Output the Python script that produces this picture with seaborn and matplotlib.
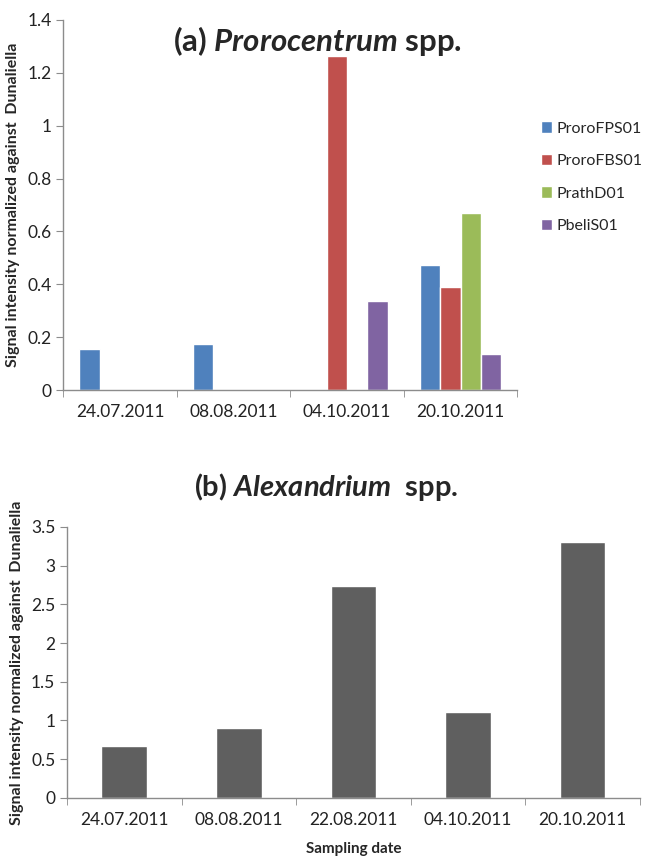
import numpy as np
import pandas as pd
import matplotlib
matplotlib.use("Agg")
import matplotlib.pyplot as plt
import seaborn as sns

# data for panel (a)
dates_a = ["24.07.2011", "08.08.2011", "04.10.2011", "20.10.2011"]
probes = ["ProroFPS01", "ProroFBS01", "PrathD01", "PbeliS01"]
proro_fps = [0.157, 0.173, 0.0, 0.475]
proro_fbs = [0.0, 0.0, 1.265, 0.390]
prath_d = [0.0, 0.0, 0.0, 0.668]
pbeli_s = [0.0, 0.0, 0.337, 0.135]

# data for panel (b)
dates_b = ["24.07.2011", "08.08.2011", "22.08.2011", "04.10.2011", "20.10.2011"]
alex_vals = [0.67, 0.90, 2.73, 1.11, 3.30]

probe_colors = ["#4F81BD", "#C0504D", "#9BBB59", "#8064A2"]
ylab = "Signal intensity normalized against  Dunaliella"

sns.set_style("white")
plt.rcParams['font.family'] = ['Lato', 'DejaVu Sans']
plt.rcParams['mathtext.fontset'] = 'custom'
plt.rcParams['mathtext.it'] = 'Lato:italic:bold'
plt.rcParams['mathtext.rm'] = 'Lato:bold'

df_a = pd.DataFrame({
    "date": np.repeat(dates_a, len(probes)),
    "probe": probes * len(dates_a),
    "value": np.array([proro_fps, proro_fbs, prath_d, pbeli_s]).T.ravel(),
})
df_b = pd.DataFrame({"date": dates_b, "value": alex_vals})

fig = plt.figure(figsize=(6.45, 8.65), dpi=100)
ax1 = fig.add_axes([0.098, 0.549, 0.704, 0.428])
ax2 = fig.add_axes([0.104, 0.0775, 0.888, 0.3135])

sns.barplot(data=df_a, x="date", y="value", hue="probe", hue_order=probes,
            palette=probe_colors, width=0.72, saturation=1, ax=ax1)
sns.barplot(data=df_b, x="date", y="value", color="#5F5F5F", width=0.4,
            saturation=1, ax=ax2)


def style_axis(ax, n, ymax, step):
    ax.set_xlim(-0.5, n - 0.5)
    ax.set_ylim(0, ymax)
    ax.set_yticks(np.arange(0, ymax + 1e-9, step))
    ax.set_yticklabels([f"{v:g}" for v in np.arange(0, ymax + 1e-9, step)])
    for s in ["top", "right"]:
        ax.spines[s].set_visible(False)
    for s in ["left", "bottom"]:
        ax.spines[s].set_color("#8C8C8C")
        ax.spines[s].set_linewidth(1)
    ax.set_xticks(np.arange(-0.5, n, 1), minor=True)
    ax.tick_params(axis="x", which="major", length=0, labelsize=12.5, pad=10,
                   colors="#222222")
    ax.tick_params(axis="x", which="minor", length=5, color="#8C8C8C",
                   direction="out", bottom=True)
    ax.tick_params(axis="y", length=5, color="#8C8C8C", direction="out",
                   left=True, labelsize=12.5, colors="#222222")
    ax.set_ylabel(ylab, fontsize=11.5, fontweight="bold", labelpad=5)


style_axis(ax1, len(dates_a), 1.4, 0.2)
style_axis(ax2, len(dates_b), 3.5, 0.5)
ax1.set_xlabel("")
ax2.set_xlabel("Sampling date", fontsize=11, fontweight="bold", labelpad=10)

leg = ax1.legend(loc="center left", bbox_to_anchor=(1.02, 0.575), frameon=False,
                 fontsize=11.5, handlelength=0.7, handleheight=0.7,
                 handletextpad=0.3, labelspacing=1.15)

fig.text(0.492, 0.953, r"(a) $\mathit{Prorocentrum}$ spp.", ha="center",
         va="center", fontsize=22.5, fontweight="bold")
fig.text(0.505, 0.437, r"(b) $\mathit{Alexandrium}$  spp.", ha="center",
         va="center", fontsize=21, fontweight="bold")

fig.savefig("out.png", dpi=100)
